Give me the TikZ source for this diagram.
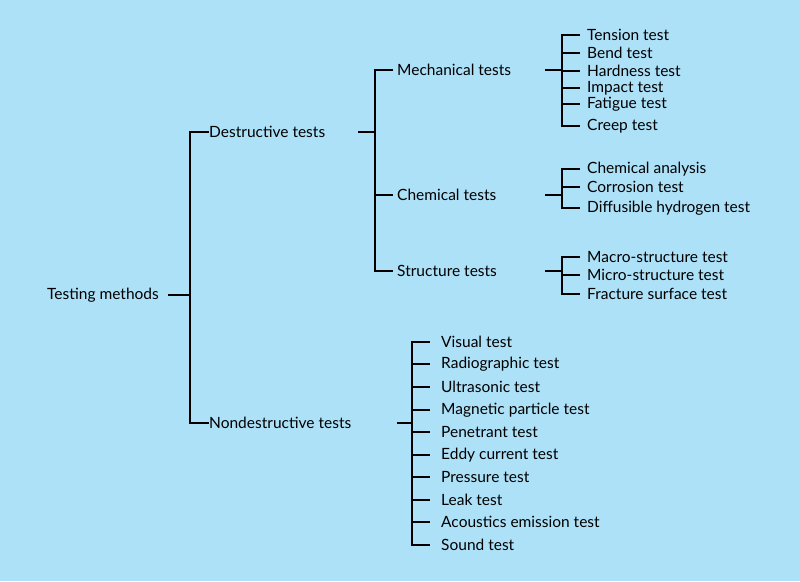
\documentclass[tikz,border=0pt]{standalone}
\usepackage{fontspec}
\setmainfont{Lato}
\definecolor{bg}{HTML}{ADE1F8}
\tikzset{x=1pt,y=-1pt,
 lbl/.style={anchor=west,inner sep=0pt,font=\fontsize{15.5}{17}\selectfont},
 ln/.style={line width=1.3pt,black}}
\begin{document}
\begin{tikzpicture}
\fill[bg] (0,0) rectangle (800,581);
\useasboundingbox (0,0) rectangle (800,581);
\node[lbl] (root) at (47,295) {Testing methods};
\node[lbl] (d) at (209,132) {Destructive tests};
\node[lbl] (n) at (209,423) {Nondestructive tests};
\node[lbl] (m) at (397,70) {Mechanical tests};
\node[lbl] (c) at (397,195) {Chemical tests};
\node[lbl] (s) at (397,271) {Structure tests};
\foreach \t/\y [count=\i] in {Tension test/35,Bend test/53,Hardness test/71,Impact test/88,Fatigue test/104,Creep test/126}
  \node[lbl] (m\i) at (587,\y) {\t};
\foreach \t/\y [count=\i] in {Chemical analysis/169,Corrosion test/187,Diffusible hydrogen test/208}
  \node[lbl] (c\i) at (587,\y) {\t};
\foreach \t/\y [count=\i] in {Macro-structure test/257,Micro-structure test/275,Fracture surface test/294}
  \node[lbl] (s\i) at (587,\y) {\t};
\foreach \t/\y [count=\i] in {Visual test/342,Radiographic test/364,Ultrasonic test/387,Magnetic particle test/410,Penetrant test/432,Eddy current test/455,Pressure test/477,Leak test/500,Acoustics emission test/522,Sound test/545}
  \node[lbl] (n\i) at (441,\y) {\t};
% root
\draw[ln] (168,295) -- (190,295);
\draw[ln] (d.west) -| (190,0|-n.west) -- (n.west);
% destructive
\draw[ln] (358,132) -- (375,132);
\draw[ln] (m.west) ++(-4,0) -| (375,0|-s.west) -- ([xshift=-4pt]s.west);
\draw[ln] (375,195) -- ([xshift=-4pt]c.west);
% mechanical
\draw[ln] (545,70) -- (562,70);
\draw[ln] ([xshift=-7pt]m1.west) -| (562,126) -- ([xshift=-7pt]m6.west);
\foreach \i in {2,...,5} \draw[ln] (562,0|-m\i.west) -- ([xshift=-7pt]m\i.west);
% chemical
\draw[ln] (545,195) -- (562,195);
\draw[ln] ([xshift=-7pt]c1.west) -| (562,208) -- ([xshift=-7pt]c3.west);
\draw[ln] (562,187) -- ([xshift=-7pt]c2.west);
% structure
\draw[ln] (545,271) -- (562,271);
\draw[ln] ([xshift=-7pt]s1.west) -| (562,294) -- ([xshift=-7pt]s3.west);
\draw[ln] (562,275) -- ([xshift=-7pt]s2.west);
% nondestructive
\draw[ln] (397,423) -- (412,423);
\draw[ln] ([xshift=-11pt]n1.west) -| (412,545) -- ([xshift=-11pt]n10.west);
\foreach \i in {2,...,9} \draw[ln] (412,0|-n\i.west) -- ([xshift=-11pt]n\i.west);
\end{tikzpicture}
\end{document}
